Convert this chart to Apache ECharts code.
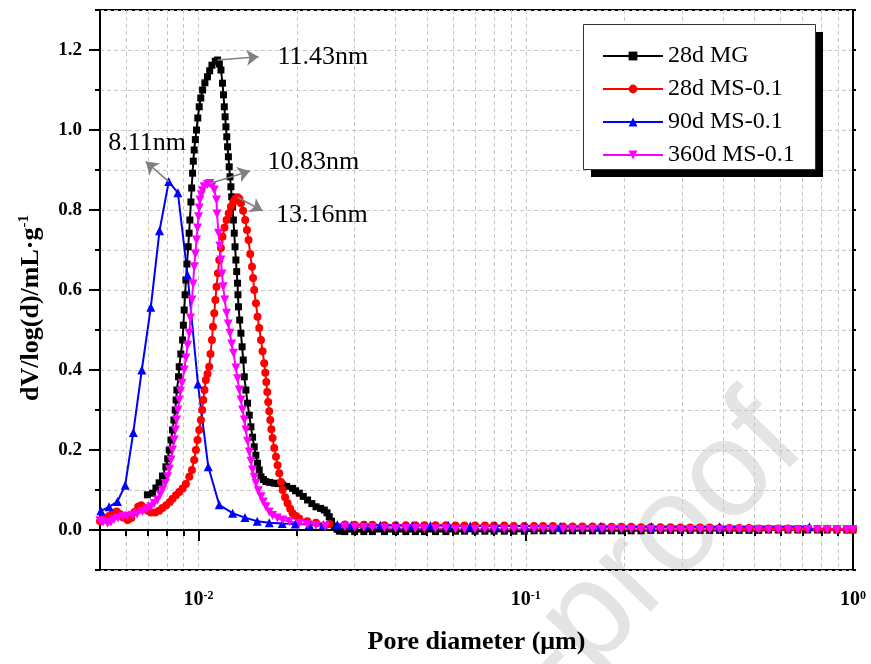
<!DOCTYPE html>
<html>
<head>
<meta charset="utf-8">
<script src="https://cdn.jsdelivr.net/npm/echarts@6/dist/echarts.min.js"></script>
<style>
html, body { margin: 0; padding: 0; background: #fff; }
#chart { width: 871px; height: 664px; }
</style>
</head>
<body>
<div id="chart"></div>
<script>
// Pore size distribution: pore diameter (µm) against dV/log(d) (mL/g)

const seriesNames = ['28d MG', '28d MS-0.1', '90d MS-0.1', '360d MS-0.1'];

// shared diameter grid of the large-pore tail (dense samples)
const tailDiameter = [0.028, 0.030, 0.032, 0.034, 0.037, 0.040, 0.043, 0.046, 0.049, 0.053,
  0.057, 0.061, 0.065, 0.070, 0.075, 0.080, 0.086, 0.092, 0.099, 0.106,
  0.113, 0.121, 0.130, 0.139, 0.149, 0.160, 0.171, 0.183, 0.196, 0.210,
  0.225, 0.241, 0.258, 0.277, 0.297, 0.318, 0.341, 0.365, 0.391, 0.419,
  0.449, 0.481, 0.515, 0.552, 0.591, 0.633, 0.678, 0.727, 0.779, 0.834,
  0.893, 0.957, 1.0];

// 28d MG
const mgDiameter = [0.00698, 0.00723, 0.00741, 0.00758, 0.00776, 0.00795, 0.00805, 0.00814, 0.00824, 0.00833,
  0.00841, 0.00849, 0.00854, 0.00859, 0.00869, 0.00873, 0.00883, 0.00894, 0.00899, 0.00904,
  0.00910, 0.00915, 0.00922, 0.00930, 0.00936, 0.00941, 0.00948, 0.00953, 0.00959, 0.00964,
  0.00970, 0.00978, 0.00986, 0.00995, 0.01005, 0.01016, 0.01029, 0.01046, 0.01065, 0.01082,
  0.01099, 0.01125, 0.01143, 0.01158, 0.01171, 0.01184, 0.01192, 0.01199, 0.01206, 0.01213,
  0.01220, 0.01227, 0.01234, 0.01241, 0.01248, 0.01256, 0.01263, 0.01271, 0.01278, 0.01286,
  0.01293, 0.01301, 0.01308, 0.01316, 0.01320, 0.01325, 0.01336, 0.01348, 0.01359, 0.01370,
  0.01380, 0.01396, 0.01412, 0.01429, 0.01446, 0.01463, 0.01480, 0.01497, 0.01515, 0.01533,
  0.01552, 0.0158, 0.01607, 0.0165, 0.01704, 0.0175, 0.01807, 0.0186, 0.01939, 0.0198,
  0.02032, 0.0209, 0.02154, 0.0222, 0.02286, 0.0236, 0.02423, 0.0247, 0.02510, 0.0255,
  0.02600, 0.0265, 0.02693];
const mgValue = [0.088, 0.092, 0.105, 0.118, 0.135, 0.158, 0.178, 0.200, 0.225, 0.250,
  0.275, 0.300, 0.325, 0.350, 0.383, 0.408, 0.440, 0.475, 0.512, 0.550,
  0.588, 0.625, 0.665, 0.708, 0.742, 0.775, 0.820, 0.855, 0.892, 0.922,
  0.950, 0.976, 1.000, 1.030, 1.058, 1.080, 1.100, 1.118, 1.133, 1.148,
  1.162, 1.172, 1.175, 1.165, 1.150, 1.117, 1.088, 1.058, 1.033, 1.008,
  0.983, 0.958, 0.933, 0.908, 0.883, 0.858, 0.833, 0.808, 0.775, 0.742,
  0.708, 0.675, 0.646, 0.617, 0.588, 0.558, 0.525, 0.492, 0.458, 0.425,
  0.383, 0.350, 0.317, 0.287, 0.258, 0.232, 0.208, 0.187, 0.167, 0.150,
  0.133, 0.126, 0.121, 0.119, 0.117, 0.116, 0.1125, 0.109, 0.104, 0.098,
  0.092, 0.084, 0.075, 0.066, 0.058, 0.054, 0.050, 0.043, 0.033, 0.022,
  0.010, 0.002, -0.003];
const mgTailValue = [-0.004, -0.004, -0.004, -0.004, -0.004, -0.004, -0.004, -0.004, -0.004, -0.004,
  -0.004, -0.003, -0.003, -0.003, -0.003, -0.003, -0.003, -0.003, -0.003, -0.002,
  -0.002, -0.002, -0.002, -0.002, -0.002, -0.002, -0.002, -0.002, -0.002, -0.002,
  -0.002, -0.001, -0.001, -0.001, -0.001, -0.001, -0.001, -0.001, -0.001, -0.001,
  -0.001, -0.001, -0.001, 0.000, 0.000, 0.000, 0.000, 0.000, 0.000, 0.000,
  0.000, 0.000, 0.000];

// 28d MS-0.1
const ms28Diameter = [0.00500, 0.00515, 0.00533, 0.00548, 0.00562, 0.00574, 0.00589, 0.00607, 0.00623, 0.00638,
  0.00654, 0.00668, 0.00682, 0.00700, 0.00717, 0.00737, 0.00758, 0.00776, 0.00797, 0.00817,
  0.00833, 0.00853, 0.00873, 0.00894, 0.00915, 0.00937, 0.00955, 0.00970, 0.00982, 0.00993,
  0.01005, 0.01017, 0.01026, 0.01034, 0.01043, 0.01053, 0.01065, 0.01078, 0.01088, 0.01099,
  0.01107, 0.01117, 0.01126, 0.01135, 0.01146, 0.01157, 0.01171, 0.01184, 0.01201, 0.01218,
  0.01237, 0.01256, 0.01277, 0.01295, 0.01316, 0.01332, 0.01348, 0.01368, 0.01389, 0.01406,
  0.01422, 0.01439, 0.01457, 0.01468, 0.01480, 0.01498, 0.01515, 0.01533, 0.01552, 0.01569,
  0.01588, 0.01600, 0.01611, 0.01622, 0.01633, 0.01645, 0.01657, 0.01670, 0.01684, 0.01704,
  0.01725, 0.01744, 0.01765, 0.01787, 0.01807, 0.01839, 0.01871, 0.01906, 0.01939, 0.01986,
  0.02032, 0.02150, 0.02286, 0.02510];
const ms28Value = [0.022, 0.030, 0.035, 0.043, 0.046, 0.040, 0.031, 0.025, 0.030, 0.045,
  0.058, 0.062, 0.056, 0.048, 0.044, 0.044, 0.048, 0.055, 0.062, 0.070,
  0.078, 0.087, 0.095, 0.104, 0.115, 0.133, 0.150, 0.175, 0.200, 0.225,
  0.250, 0.275, 0.300, 0.325, 0.350, 0.375, 0.390, 0.408, 0.440, 0.475,
  0.508, 0.542, 0.575, 0.608, 0.642, 0.675, 0.705, 0.733, 0.756, 0.775,
  0.792, 0.808, 0.820, 0.828, 0.832, 0.828, 0.817, 0.798, 0.775, 0.750,
  0.725, 0.690, 0.658, 0.630, 0.600, 0.567, 0.533, 0.505, 0.475, 0.447,
  0.417, 0.393, 0.370, 0.345, 0.320, 0.297, 0.275, 0.252, 0.230, 0.205,
  0.183, 0.162, 0.142, 0.120, 0.100, 0.082, 0.067, 0.053, 0.042, 0.035,
  0.029, 0.022, 0.018, 0.015];
const ms28TailValue = [0.014, 0.013, 0.013, 0.013, 0.012, 0.012, 0.012, 0.012, 0.012, 0.012,
  0.012, 0.011, 0.011, 0.011, 0.011, 0.011, 0.011, 0.010, 0.010, 0.010,
  0.010, 0.010, 0.009, 0.009, 0.009, 0.009, 0.008, 0.008, 0.008, 0.008,
  0.007, 0.007, 0.007, 0.007, 0.006, 0.006, 0.006, 0.006, 0.005, 0.005,
  0.005, 0.005, 0.004, 0.004, 0.004, 0.004, 0.003, 0.003, 0.003, 0.003,
  0.002, 0.002, 0.002];

// 90d MS-0.1 (sparse sampling)
const ms90Diameter = [0.00503, 0.00533, 0.00565, 0.00597, 0.00632, 0.00671, 0.00715, 0.00760, 0.00811, 0.00865,
  0.00926, 0.00996, 0.01071, 0.01157, 0.01271, 0.01387, 0.01512, 0.01645, 0.01803, 0.01976,
  0.02181, 0.02406, 0.02656, 0.02931, 0.03234, 0.03594, 0.04023, 0.04502, 0.05113, 0.05802,
  0.0677, 0.0808, 0.0995, 0.1274, 0.169, 0.242, 0.391, 0.736];
const ms90Value = [0.048, 0.058, 0.071, 0.112, 0.244, 0.400, 0.557, 0.748, 0.871, 0.843,
  0.637, 0.365, 0.158, 0.063, 0.042, 0.031, 0.022, 0.018, 0.016, 0.015,
  0.014, 0.013, 0.013, 0.012, 0.012, 0.012, 0.011, 0.011, 0.011, 0.011,
  0.010, 0.010, 0.010, 0.009, 0.009, 0.009, 0.008, 0.008];

// 360d MS-0.1
const ms360Diameter = [0.00500, 0.00511, 0.00527, 0.00540, 0.00552, 0.00568, 0.00586, 0.00605, 0.00628, 0.00649,
  0.00674, 0.00694, 0.00715, 0.00732, 0.00749, 0.00764, 0.00776, 0.00791, 0.00804, 0.00814,
  0.00824, 0.00833, 0.00843, 0.00850, 0.00857, 0.00865, 0.00873, 0.00881, 0.00890, 0.00904,
  0.00915, 0.00926, 0.00937, 0.00945, 0.00955, 0.00963, 0.00970, 0.00978, 0.00986, 0.00993,
  0.01000, 0.01005, 0.01010, 0.01020, 0.01029, 0.01041, 0.01065, 0.01083, 0.01101, 0.01117,
  0.01135, 0.01139, 0.01151, 0.01161, 0.01171, 0.01180, 0.01190, 0.01203, 0.01218, 0.01233,
  0.01247, 0.01263, 0.01279, 0.01301, 0.01316, 0.01332, 0.01348, 0.01363, 0.01380, 0.01396,
  0.01412, 0.01429, 0.01446, 0.01462, 0.01480, 0.01498, 0.01523, 0.01552, 0.01577, 0.01607,
  0.01645, 0.01684, 0.01741, 0.01807, 0.01894, 0.02032, 0.02150, 0.02286, 0.02441];
const ms360Value = [0.023, 0.020, 0.017, 0.020, 0.026, 0.030, 0.033, 0.035, 0.037, 0.040,
  0.046, 0.052, 0.058, 0.066, 0.075, 0.088, 0.100, 0.116, 0.133, 0.152,
  0.175, 0.200, 0.225, 0.250, 0.275, 0.300, 0.325, 0.347, 0.367, 0.400,
  0.430, 0.462, 0.492, 0.530, 0.575, 0.615, 0.658, 0.690, 0.725, 0.755,
  0.783, 0.805, 0.825, 0.838, 0.848, 0.858, 0.864, 0.866, 0.860, 0.850,
  0.825, 0.790, 0.742, 0.710, 0.675, 0.640, 0.608, 0.575, 0.542, 0.515,
  0.492, 0.465, 0.442, 0.405, 0.378, 0.350, 0.325, 0.300, 0.275, 0.250,
  0.222, 0.195, 0.172, 0.150, 0.132, 0.117, 0.098, 0.083, 0.070, 0.058,
  0.045, 0.036, 0.030, 0.025, 0.021, 0.017, 0.014, 0.011, 0.009];
const ms360TailValue = [0.008, 0.007, 0.006, 0.006, 0.005, 0.004, 0.004, 0.004, 0.003, 0.003,
  0.003, 0.002, 0.002, 0.002, 0.002, 0.002, 0.002, 0.002, 0.002, 0.002,
  0.002, 0.002, 0.002, 0.002, 0.002, 0.002, 0.002, 0.002, 0.002, 0.002,
  0.001, 0.001, 0.001, 0.001, 0.001, 0.001, 0.001, 0.001, 0.001, 0.001,
  0.001, 0.001, 0.001, 0.001, 0.001, 0.001, 0.001, 0.001, 0.001, 0.001,
  0.001, 0.001, 0.001];

// most probable pore diameters (µm) of each curve
const peakDiameter = [0.01143, 0.01316, 0.00811, 0.01083];

// axis ticks
const xTickValues = [0.005, 0.006, 0.007, 0.008, 0.009, 0.01, 0.02, 0.03, 0.04, 0.05, 0.06, 0.07, 0.08, 0.09,
  0.1, 0.2, 0.3, 0.4, 0.5, 0.6, 0.7, 0.8, 0.9, 1];
const xLabelValues = [0.01, 0.1, 1];
const yLabelValues = [0, 0.2, 0.4, 0.6, 0.8, 1.0, 1.2];

const FONT = '"Times New Roman", "Liberation Serif", serif';

function pairs(xs, ys) {
  return xs.map(function (x, i) { return [x, ys[i]]; });
}

const seriesData = [
  pairs(mgDiameter.concat(tailDiameter), mgValue.concat(mgTailValue)),
  pairs(ms28Diameter.concat(tailDiameter), ms28Value.concat(ms28TailValue)),
  pairs(ms90Diameter, ms90Value),
  pairs(ms360Diameter.concat(tailDiameter), ms360Value.concat(ms360TailValue))
];

// arrow tip and label anchor of each peak note, in data coordinates
const notePlacement = [
  { tip: [0.01526, 1.183], text: [0.01744, 1.181] },
  { tip: [0.01569, 0.798], text: [0.01725, 0.787] },
  { tip: [0.0069, 0.921], text: [0.0053, 0.9675] },
  { tip: [0.01436, 0.8975], text: [0.01626, 0.92] }
];

const colors = ['#000000', '#ff0000', '#0000ff', '#ff00ff'];
const symbols = ['rect', 'circle', 'triangle', 'triangle'];
const symbolSizes = [7, 8, 9, 9];
const symbolRotates = [0, 0, 0, 180];

function peakValue(i) {
  const d = seriesData[i];
  for (let k = 0; k < d.length; k++) {
    if (d[k][0] === peakDiameter[i]) return d[k][1];
  }
  return null;
}

const series = seriesNames.map(function (name, i) {
  const pd = peakDiameter[i];
  const pv = peakValue(i);
  const place = notePlacement[i];
  return {
    name: name,
    type: 'line',
    data: seriesData[i],
    color: colors[i],
    symbol: symbols[i],
    symbolSize: symbolSizes[i],
    symbolRotate: symbolRotates[i],
    showAllSymbol: true,
    lineStyle: { width: 2, color: colors[i] },
    itemStyle: { color: colors[i] },
    emphasis: { disabled: true },
    markLine: {
      silent: true,
      symbol: ['none', 'arrow'],
      symbolSize: 12,
      label: { show: false },
      lineStyle: { color: '#808080', width: 1.6, type: 'solid' },
      emphasis: { disabled: true },
      data: [[{ coord: [pd, pv] }, { coord: place.tip }]]
    },
    markPoint: {
      silent: true,
      symbol: 'rect',
      symbolSize: 0,
      itemStyle: { color: 'transparent' },
      label: {
        show: true,
        position: 'right',
        distance: 0,
        formatter: (pd * 1000).toFixed(2) + 'nm',
        fontFamily: FONT,
        fontSize: 26,
        color: '#000'
      },
      data: [{ coord: place.text }]
    }
  };
});

const axisLineStyle = { color: '#000', width: 2 };
const gridLine = { show: true, lineStyle: { color: '#c8c8c8', width: 1, type: [4, 3] } };

const option = {
  animation: false,
  backgroundColor: '#ffffff',
  grid: { left: 100, right: 18, top: 10, bottom: 94, show: true, borderColor: '#000', borderWidth: 2, backgroundColor: 'transparent' },
  graphic: [
    {
      // faint page watermark behind the plot
      type: 'text',
      x: 830,
      y: 470,
      rotation: 46 * Math.PI / 180,
      z: -10,
      silent: true,
      style: {
        text: 'Journal Pre-proof',
        font: '137px "Liberation Sans", Arial, sans-serif',
        fill: '#e4e4e4',
        textAlign: 'right',
        textVerticalAlign: 'bottom'
      }
    },
    {
      // legend drop shadow
      type: 'rect',
      z: 3,
      silent: true,
      shape: { x: 591, y: 32, width: 232, height: 145 },
      style: { fill: '#000' }
    },
    {
      // legend frame
      type: 'rect',
      z: 3,
      silent: true,
      shape: { x: 583.5, y: 24.5, width: 232, height: 145 },
      style: { fill: '#fff', stroke: '#333', lineWidth: 1 }
    }
  ],
  legend: {
    data: seriesNames,
    orient: 'vertical',
    left: 583,
    top: 24,
    z: 5,
    padding: [20, 21, 3, 19],
    itemGap: 9,
    itemWidth: 60,
    itemHeight: 11,
    textStyle: { fontFamily: FONT, fontSize: 24, color: '#000', lineHeight: 24 }
  },
  xAxis: [
    {
      type: 'log',
      logBase: 10,
      min: 0.005,
      max: 1,
      position: 'bottom',
      axisLine: { show: true, lineStyle: axisLineStyle },
      axisTick: { show: true, customValues: xTickValues, length: 6, lineStyle: axisLineStyle },
      axisLabel: {
        customValues: xLabelValues,
        margin: 20,
        formatter: function (v) {
          return '{b|10}{s|' + Math.round(Math.log10(v)) + '}';
        },
        rich: {
          b: { fontFamily: FONT, fontSize: 20, fontWeight: 'bold', color: '#000', lineHeight: 20 },
          s: { fontFamily: FONT, fontSize: 12, fontWeight: 'bold', color: '#000', verticalAlign: 'top', lineHeight: 12 }
        }
      },
      splitLine: gridLine,
      name: 'Pore diameter (μm)',
      nameLocation: 'middle',
      nameGap: 59,
      nameTextStyle: { fontFamily: FONT, fontSize: 26, fontWeight: 'bold', color: '#000' }
    },
    {
      type: 'log',
      logBase: 10,
      min: 0.005,
      max: 1,
      position: 'bottom',
      axisLine: { show: false },
      axisTick: { show: true, customValues: xLabelValues, length: 11, lineStyle: axisLineStyle },
      axisLabel: { show: false },
      splitLine: { show: false }
    }
  ],
  yAxis: [
    {
      type: 'value',
      min: -0.1,
      max: 1.3,
      interval: 0.1,
      position: 'left',
      axisLine: { show: true, lineStyle: axisLineStyle },
      axisTick: { show: true, length: 5, lineStyle: axisLineStyle },
      axisLabel: {
        customValues: yLabelValues,
        margin: 18,
        fontFamily: FONT,
        fontSize: 19,
        fontWeight: 'bold',
        color: '#000',
        formatter: function (v) { return v.toFixed(1); }
      },
      splitLine: gridLine,
      name: '{t|dV/log(d)/mL·g}{s|-1}',
      nameLocation: 'middle',
      nameGap: 55,
      nameTextStyle: {
        padding: [0, 36, 0, 0],
        rich: {
          t: { fontFamily: FONT, fontSize: 26, fontWeight: 'bold', color: '#000', lineHeight: 28 },
          s: { fontFamily: FONT, fontSize: 15, fontWeight: 'bold', color: '#000', verticalAlign: 'top', lineHeight: 15 }
        }
      }
    },
    {
      type: 'value',
      min: -0.1,
      max: 1.3,
      position: 'left',
      axisLine: { show: false },
      axisTick: { show: true, customValues: yLabelValues, length: 11, lineStyle: axisLineStyle },
      axisLabel: { show: false },
      splitLine: { show: false }
    },
    {
      type: 'value',
      min: -0.1,
      max: 1.3,
      interval: 0.1,
      position: 'right',
      axisLine: { show: true, lineStyle: axisLineStyle },
      axisTick: { show: true, length: 3, lineStyle: axisLineStyle },
      axisLabel: { show: false },
      splitLine: { show: false }
    }
  ],
  series: series
};

const chart = echarts.init(document.getElementById('chart'), null, { renderer: 'canvas' });
chart.setOption(option);
</script>
</body>
</html>
